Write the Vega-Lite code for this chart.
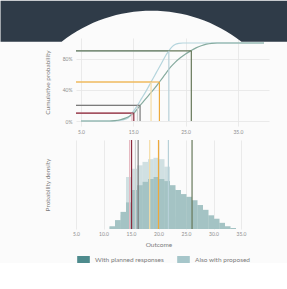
{
  "$schema": "https://vega.github.io/schema/vega-lite/v6.json",
  "background": "#fbfbfb",
  "padding": 0,
  "spacing": 14,
  "bounds": "flush",
  "config": {
    "font": "Lato",
    "view": {"stroke": null},
    "axis": {"labelFont": "Lato", "titleFont": "Lato", "labelFontSize": 5, "labelColor": "#8e8e8e", "titleFontSize": 6.5, "titleColor": "#7c7c7c", "titleFontWeight": "normal", "ticks": false, "domain": false, "gridColor": "#e6e6e6", "gridWidth": 0.8, "labelOverlap": false},
    "legend": {"labelFont": "Lato", "labelFontSize": 6.5, "labelColor": "#7c7c7c", "symbolOpacity": 1}
  },
  "datasets": {
    "hist": [
      {"lo": 11, "hi": 12, "series": "Also with proposed", "density": 0.003},
      {"lo": 12, "hi": 13, "series": "Also with proposed", "density": 0.009},
      {"lo": 13, "hi": 14, "series": "Also with proposed", "density": 0.020},
      {"lo": 14, "hi": 15, "series": "Also with proposed", "density": 0.076},
      {"lo": 15, "hi": 16, "series": "Also with proposed", "density": 0.088},
      {"lo": 16, "hi": 17, "series": "Also with proposed", "density": 0.093},
      {"lo": 17, "hi": 18, "series": "Also with proposed", "density": 0.098},
      {"lo": 18, "hi": 19, "series": "Also with proposed", "density": 0.102},
      {"lo": 19, "hi": 20, "series": "Also with proposed", "density": 0.104},
      {"lo": 20, "hi": 21, "series": "Also with proposed", "density": 0.102},
      {"lo": 21, "hi": 22, "series": "Also with proposed", "density": 0.091},
      {"lo": 22, "hi": 23, "series": "Also with proposed", "density": 0.058},
      {"lo": 23, "hi": 24, "series": "Also with proposed", "density": 0.018},
      {"lo": 24, "hi": 25, "series": "Also with proposed", "density": 0.006},
      {"lo": 11, "hi": 12, "series": "With planned responses", "density": 0.004},
      {"lo": 12, "hi": 13, "series": "With planned responses", "density": 0.013},
      {"lo": 13, "hi": 14, "series": "With planned responses", "density": 0.025},
      {"lo": 14, "hi": 15, "series": "With planned responses", "density": 0.039},
      {"lo": 15, "hi": 16, "series": "With planned responses", "density": 0.057},
      {"lo": 16, "hi": 17, "series": "With planned responses", "density": 0.064},
      {"lo": 17, "hi": 18, "series": "With planned responses", "density": 0.069},
      {"lo": 18, "hi": 19, "series": "With planned responses", "density": 0.073},
      {"lo": 19, "hi": 20, "series": "With planned responses", "density": 0.076},
      {"lo": 20, "hi": 21, "series": "With planned responses", "density": 0.073},
      {"lo": 21, "hi": 22, "series": "With planned responses", "density": 0.070},
      {"lo": 22, "hi": 23, "series": "With planned responses", "density": 0.064},
      {"lo": 23, "hi": 24, "series": "With planned responses", "density": 0.057},
      {"lo": 24, "hi": 25, "series": "With planned responses", "density": 0.051},
      {"lo": 25, "hi": 26, "series": "With planned responses", "density": 0.047},
      {"lo": 26, "hi": 27, "series": "With planned responses", "density": 0.042},
      {"lo": 27, "hi": 28, "series": "With planned responses", "density": 0.035},
      {"lo": 28, "hi": 29, "series": "With planned responses", "density": 0.028},
      {"lo": 29, "hi": 30, "series": "With planned responses", "density": 0.020},
      {"lo": 30, "hi": 31, "series": "With planned responses", "density": 0.015},
      {"lo": 31, "hi": 32, "series": "With planned responses", "density": 0.009},
      {"lo": 32, "hi": 33, "series": "With planned responses", "density": 0.004},
      {"lo": 33, "hi": 34, "series": "With planned responses", "density": 0.0015}
    ],
    "cdf": [
      {"line": "cdf proposed", "outcome": 5, "prob": 0},
      {"line": "cdf proposed", "outcome": 11, "prob": 0},
      {"line": "cdf proposed", "outcome": 12, "prob": 0.004},
      {"line": "cdf proposed", "outcome": 13, "prob": 0.013},
      {"line": "cdf proposed", "outcome": 14, "prob": 0.038},
      {"line": "cdf proposed", "outcome": 14.75, "prob": 0.10},
      {"line": "cdf proposed", "outcome": 15.8, "prob": 0.20},
      {"line": "cdf proposed", "outcome": 16.6, "prob": 0.29},
      {"line": "cdf proposed", "outcome": 17.5, "prob": 0.39},
      {"line": "cdf proposed", "outcome": 18.4, "prob": 0.50},
      {"line": "cdf proposed", "outcome": 19.4, "prob": 0.62},
      {"line": "cdf proposed", "outcome": 20.4, "prob": 0.74},
      {"line": "cdf proposed", "outcome": 21.2, "prob": 0.84},
      {"line": "cdf proposed", "outcome": 21.8, "prob": 0.90},
      {"line": "cdf proposed", "outcome": 22.4, "prob": 0.95},
      {"line": "cdf proposed", "outcome": 23, "prob": 0.98},
      {"line": "cdf proposed", "outcome": 23.7, "prob": 0.995},
      {"line": "cdf proposed", "outcome": 24.5, "prob": 1},
      {"line": "cdf proposed", "outcome": 40, "prob": 1},
      {"line": "cdf planned", "outcome": 5, "prob": 0},
      {"line": "cdf planned", "outcome": 10.5, "prob": 0},
      {"line": "cdf planned", "outcome": 11.5, "prob": 0.005},
      {"line": "cdf planned", "outcome": 12.5, "prob": 0.016},
      {"line": "cdf planned", "outcome": 13.5, "prob": 0.037},
      {"line": "cdf planned", "outcome": 14.5, "prob": 0.072},
      {"line": "cdf planned", "outcome": 15.1, "prob": 0.10},
      {"line": "cdf planned", "outcome": 16.3, "prob": 0.20},
      {"line": "cdf planned", "outcome": 17.2, "prob": 0.27},
      {"line": "cdf planned", "outcome": 18.2, "prob": 0.35},
      {"line": "cdf planned", "outcome": 19.1, "prob": 0.42},
      {"line": "cdf planned", "outcome": 20, "prob": 0.50},
      {"line": "cdf planned", "outcome": 21, "prob": 0.59},
      {"line": "cdf planned", "outcome": 22, "prob": 0.68},
      {"line": "cdf planned", "outcome": 23, "prob": 0.752},
      {"line": "cdf planned", "outcome": 24, "prob": 0.81},
      {"line": "cdf planned", "outcome": 25, "prob": 0.86},
      {"line": "cdf planned", "outcome": 26, "prob": 0.90},
      {"line": "cdf planned", "outcome": 27, "prob": 0.937},
      {"line": "cdf planned", "outcome": 28, "prob": 0.965},
      {"line": "cdf planned", "outcome": 29, "prob": 0.985},
      {"line": "cdf planned", "outcome": 30, "prob": 0.996},
      {"line": "cdf planned", "outcome": 31, "prob": 1},
      {"line": "cdf planned", "outcome": 40, "prob": 1}
    ],
    "quantiles": [
      {"line": "proposed 10%", "q": 14.75, "p": 0.1},
      {"line": "proposed 20%", "q": 15.8, "p": 0.2},
      {"line": "proposed 50%", "q": 18.4, "p": 0.5},
      {"line": "proposed 90%", "q": 21.8, "p": 0.9},
      {"line": "planned 10%", "q": 15.1, "p": 0.1},
      {"line": "planned 20%", "q": 16.3, "p": 0.2},
      {"line": "planned 50%", "q": 20.0, "p": 0.5},
      {"line": "planned 90%", "q": 26.1, "p": 0.9}
    ]
  },
  "vconcat": [
    {
      "width": 193,
      "height": 88,
      "layer": [
        {
          "data": {"name": "cdf"},
          "mark": {"type": "line", "strokeWidth": 1.2, "interpolate": "monotone"},
          "encoding": {
            "x": {"field": "outcome", "type": "quantitative", "scale": {"domain": [5, 40], "nice": false, "zero": false},
                  "axis": {"values": [5, 10, 15, 20, 25, 30, 35, 40], "format": ".1f", "title": null, "grid": true, "labelPadding": 3, "labelOverlap": false, "labelSeparation": 0, "labelFlush": false}},
            "y": {"field": "prob", "type": "quantitative", "scale": {"domain": [0, 1], "nice": false, "zero": false},
                  "axis": {"values": [0, 0.1, 0.2, 0.3, 0.4, 0.5, 0.6, 0.7, 0.8, 0.9, 1], "format": ".0%", "title": "Cumulative probability", "grid": true, "labelPadding": 4, "titlePadding": 9, "minExtent": 17, "maxExtent": 17, "labelOverlap": false, "labelSeparation": 0, "labelFlush": false}},
            "stroke": {"field": "line", "type": "nominal", "legend": null,
              "scale": {"domain": ["cdf planned", "cdf proposed", "proposed 10%", "proposed 20%", "proposed 50%", "proposed 90%", "planned 10%", "planned 20%", "planned 50%", "planned 90%"],
                        "range": ["#86ab9f", "#b5d5dd", "#e6b9c1", "#d2d2d2", "#f4dca6", "#b7d0d8", "#8b2b3d", "#7b7b7b", "#eea93a", "#66785a"]}}
          }
        },
        {
          "data": {"name": "quantiles"},
          "mark": {"type": "bar", "orient": "horizontal", "size": 1.2, "clip": true},
          "encoding": {
            "x": {"field": "q", "type": "quantitative", "stack": null, "scale": {"domain": [5, 40], "nice": false, "zero": false}},
            "y": {"field": "p", "type": "quantitative", "scale": {"domain": [0, 1], "nice": false, "zero": false}},
            "fill": {"field": "line", "type": "nominal", "legend": null,
              "scale": {"domain": ["proposed 10%", "proposed 20%", "proposed 50%", "proposed 90%", "planned 10%", "planned 20%", "planned 50%", "planned 90%"],
                        "range": ["#e6b9c1", "#d2d2d2", "#f4dca6", "#b7d0d8", "#8b2b3d", "#7b7b7b", "#eea93a", "#66785a"]}}
          }
        },
        {
          "data": {"name": "quantiles"},
          "mark": {"type": "bar", "orient": "vertical", "size": 1.2},
          "encoding": {
            "x": {"field": "q", "type": "quantitative", "scale": {"domain": [5, 40], "nice": false, "zero": false}},
            "y": {"field": "p", "type": "quantitative", "stack": null, "scale": {"domain": [0, 1], "nice": false, "zero": false}},
            "fill": {"field": "line", "type": "nominal", "legend": null}
          }
        },
        {
          "data": {"values": [{}]},
          "mark": {"type": "point", "shape": "M-1,-0.14286H1V0.14286H0.6791A1.0174,1.0174,0,0,0,-0.5745,0.14286H-1Z", "size": 82369, "filled": true, "color": "#2f3b48", "opacity": 1, "strokeWidth": 0},
          "encoding": {
            "x": {"datum": 17.06, "type": "quantitative", "scale": {"domain": [5, 40], "nice": false, "zero": false}},
            "y": {"datum": 1.2784, "type": "quantitative", "scale": {"domain": [0, 1], "nice": false, "zero": false}}
          }
        }
      ]
    },
    {
      "width": 165,
      "height": 89,
      "layer": [
        {
          "data": {"name": "hist"},
          "transform": [{"filter": "datum.series == 'Also with proposed'"}],
          "mark": {"type": "bar", "opacity": 0.5, "binSpacing": 0},
          "encoding": {
            "x": {"field": "lo", "type": "quantitative", "bin": {"binned": true, "step": 1}, "scale": {"domain": [5, 35], "nice": false, "zero": false},
                  "axis": {"values": [5, 10, 15, 20, 25, 30, 35], "format": ".1f", "title": "Outcome", "grid": true, "labelPadding": 2, "titlePadding": 5, "labelOverlap": false, "labelSeparation": 0, "labelFlush": false}},
            "x2": {"field": "hi"},
            "y": {"field": "density", "type": "quantitative", "stack": null, "scale": {"domain": [0, 0.13], "nice": false},
                  "axis": {"title": "Probability density", "labels": false, "grid": false, "titlePadding": 9, "minExtent": 17, "maxExtent": 17}},
            "color": {"field": "series", "type": "nominal",
              "scale": {"domain": ["With planned responses", "Also with proposed"], "range": ["#4e8b8d", "#a6c6ca"]},
              "legend": {"orient": "bottom", "title": null, "direction": "horizontal", "offset": 4, "columnPadding": 12, "labelOffset": 4, "symbolType": "M-1,-0.55H1V0.55H-1Z", "symbolSize": 160}}
          }
        },
        {
          "data": {"name": "hist"},
          "transform": [{"filter": "datum.series == 'With planned responses'"}],
          "mark": {"type": "bar", "color": "#fbfbfb", "opacity": 1, "binSpacing": 0},
          "encoding": {
            "x": {"field": "lo", "type": "quantitative", "bin": {"binned": true, "step": 1}, "scale": {"domain": [5, 35], "nice": false, "zero": false}},
            "x2": {"field": "hi"},
            "y": {"field": "density", "type": "quantitative", "stack": null, "scale": {"domain": [0, 0.13], "nice": false}}
          }
        },
        {
          "data": {"name": "hist"},
          "transform": [{"filter": "datum.series == 'With planned responses'"}],
          "mark": {"type": "bar", "opacity": 0.5, "binSpacing": 0},
          "encoding": {
            "x": {"field": "lo", "type": "quantitative", "bin": {"binned": true, "step": 1}, "scale": {"domain": [5, 35], "nice": false, "zero": false}},
            "x2": {"field": "hi"},
            "y": {"field": "density", "type": "quantitative", "stack": null, "scale": {"domain": [0, 0.13], "nice": false}},
            "color": {"field": "series", "type": "nominal"}
          }
        },
        {
          "data": {"name": "quantiles"},
          "mark": {"type": "rule", "strokeWidth": 1.2},
          "encoding": {
            "x": {"field": "q", "type": "quantitative", "scale": {"domain": [5, 35], "nice": false, "zero": false}},
            "stroke": {"field": "line", "type": "nominal", "legend": null}
          }
        }
      ]
    }
  ]
}
